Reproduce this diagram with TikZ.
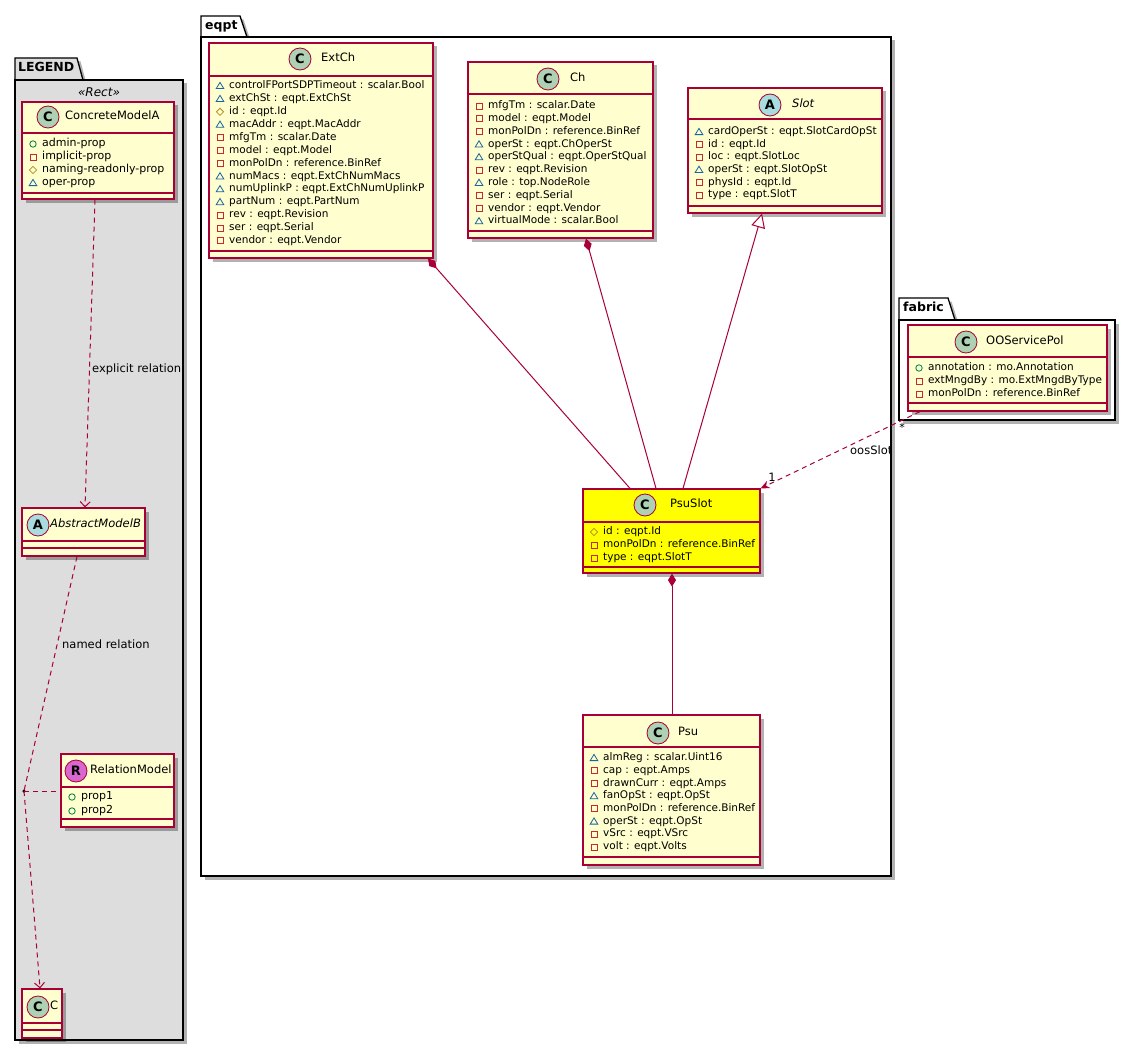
\documentclass[tikz,border=0pt]{standalone}
\usepackage{fontspec}
\setmainfont{DejaVu Sans}
\usetikzlibrary{arrows.meta,shadows}

\definecolor{clsfill}{HTML}{FEFECE}
\definecolor{clsline}{HTML}{A80036}
\definecolor{spotC}{HTML}{ADD1B2}
\definecolor{spotA}{HTML}{A9DCDF}
\definecolor{spotR}{HTML}{DA66CF}
\definecolor{hilite}{HTML}{FFFF00}
\definecolor{pkgfill}{HTML}{DDDDDD}
\definecolor{visp}{HTML}{038048}
\definecolor{visr}{HTML}{C82930}
\definecolor{visd}{HTML}{B38D22}
\definecolor{visk}{HTML}{1963A0}

\newcommand\attrfont{\fontsize{10.5}{12}\selectfont}
\newcommand\legfont{\fontsize{11}{13}\selectfont}
\newcommand\namefont{\fontsize{11.5}{13}\selectfont}

\tikzset{
  cls/.style={draw=clsline, fill=clsfill, line width=1.2pt, inner sep=0pt,
    drop shadow={shadow xshift=3.5pt, shadow yshift=-3.5pt, fill=black, opacity=.3}},
  sepline/.style={draw=clsline, line width=1.1pt},
  spot/.style={circle, draw=clsline, line width=.8pt, minimum size=22pt, inner sep=0pt,
    font=\bfseries\fontsize{13}{13}\selectfont},
  clsname/.style={anchor=mid west, inner sep=0pt, font=\namefont},
  attr/.style={anchor=mid west, inner sep=0pt, font=\attrfont},
  pkg/.style={draw=black, line width=1.3pt, inner sep=0pt,
    drop shadow={shadow xshift=3.5pt, shadow yshift=-3.5pt, fill=black, opacity=.3}},
  pkgname/.style={anchor=mid west, inner sep=0pt, font=\bfseries\fontsize{12.5}{14}\selectfont},
  rel/.style={draw=clsline, line width=1pt},
  dep/.style={rel, dash pattern=on 5pt off 4pt},
  link/.style={anchor=mid west, inner sep=0pt, font=\fontsize{11.5}{13}\selectfont},
  pics/visp/.style={code={\draw[visp, line width=.8pt] (0,0) circle (3.2);}},
  pics/visr/.style={code={\draw[visr, line width=.8pt] (-3,-3) rectangle (3,3);}},
  pics/visd/.style={code={\draw[visd, line width=.8pt] (0,-3.6) -- (3.6,0) -- (0,3.6) -- (-3.6,0) -- cycle;}},
  pics/visk/.style={code={\draw[visk, line width=.8pt] (-3.8,2.6) -- (3.8,2.6) -- (0,-3.6) -- cycle;}},
}

% box: [opts]{name}{x1}{y1}{x2}{y2}{sep1}{sep2}
\newcommand\umlbox[8][]{%
  \node[cls, minimum width={#5-#3}, minimum height={#6-#4}, #1] (#2) at ({(#3+#5)/2},{(#4+#6)/2}) {};
  \draw[sepline] (#3,#7) -- (#5,#7);
  \draw[sepline] (#3,#8) -- (#5,#8);
}
% header: {name}{spot fill}{letter}{cx}{cy}{tx}{title}
\newcommand\umlhead[7]{%
  \node[spot, fill=#2] (#1-s) at (#4,#5) {#3};
  \node[clsname] (#1-n) at (#6,#5) {#7};
}
% attributes: [font]{name}{x1}{first y}{step}{list}
\newcommand\umlattrs[6][\attrfont]{%
  \foreach \v/\t [count=\i] in {#6} {
    \pic at (#3+11,{#4+(\i-1)*#5}) {vis\v};
    \node[attr, font=#1] (#2-\i) at (#3+20,{#4+(\i-1)*#5}) {\t};
  }
}

\begin{document}
\begin{tikzpicture}[x=1pt,y=-1pt]
\useasboundingbox (0,0) rectangle (1136,1057);

% packages
\draw[pkg, fill=pkgfill] (15,80) -- (15,58) -- (77,58) -- (83,80);
\node[pkg, fill=pkgfill, minimum width=168, minimum height=960] (legend) at (99,560) {};
\node[pkgname] (legend-t) at (18,69) {LEGEND};
\node[inner sep=0pt, font=\itshape\fontsize{12}{14}\selectfont] (legend-st) at (99,92) {«Rect»};

\draw[pkg, fill=white] (201,37) -- (201,16) -- (240,16) -- (247,37);
\node[pkg, fill=white, minimum width=690, minimum height=839] (eqpt) at (546,456.5) {};
\node[pkgname] (eqpt-t) at (205,27) {eqpt};

\draw[pkg, fill=white] (899,320) -- (899,298) -- (948,298) -- (955,320);
\node[pkg, fill=white, minimum width=216, minimum height=100] (fabric) at (1007,370) {};
\node[pkgname] (fabric-t) at (903,309) {fabric};

% legend classes
\umlbox{cma}{22}{102}{174}{199}{133}{193}
\umlhead{cma}{spotC}{C}{48}{117}{65}{ConcreteModelA}
\umlattrs[\legfont]{cma}{22}{144}{13}{p/admin-prop, r/implicit-prop, d/naming-readonly-prop, k/oper-prop}

\umlbox{absb}{22}{508}{145}{556}{541}{548}
\umlhead{absb}{spotA}{A}{38}{525}{50}{\itshape AbstractModelB}

\umlbox{relm}{61}{754}{174}{827}{787}{819}
\umlhead{relm}{spotR}{R}{76}{771}{90}{RelationModel}
\umlattrs[\legfont]{relm}{61}{797}{14}{p/prop1, p/prop2}

\umlbox{cc}{22}{989}{62}{1038}{1023}{1030}
\umlhead{cc}{spotC}{C}{38}{1007}{50}{C}

% eqpt classes
\umlbox{extch}{209}{43}{433}{258}{76}{251}
\umlhead{extch}{spotC}{C}{300}{59}{321}{ExtCh}
\umlattrs{extch}{209}{86}{12.9}{k/controlFPortSDPTimeout : scalar.Bool, k/extChSt : eqpt.ExtChSt,
  d/id : eqpt.Id, k/macAddr : eqpt.MacAddr, r/mfgTm : scalar.Date, r/model : eqpt.Model,
  r/monPolDn : reference.BinRef, k/numMacs : eqpt.ExtChNumMacs, k/numUplinkP : eqpt.ExtChNumUplinkP,
  k/partNum : eqpt.PartNum, r/rev : eqpt.Revision, r/ser : eqpt.Serial, r/vendor : eqpt.Vendor}

\umlbox{ch}{468}{62}{653}{238}{94}{231}
\umlhead{ch}{spotC}{C}{548}{79}{570}{Ch}
\umlattrs{ch}{468}{106}{12.8}{r/mfgTm : scalar.Date, r/model : eqpt.Model, r/monPolDn : reference.BinRef,
  k/operSt : eqpt.ChOperSt, k/operStQual : eqpt.OperStQual, r/rev : eqpt.Revision,
  k/role : top.NodeRole, r/ser : eqpt.Serial, r/vendor : eqpt.Vendor, k/virtualMode : scalar.Bool}

\umlbox{slot}{688}{88}{882}{213}{119}{206}
\umlhead{slot}{spotA}{A}{770}{105}{792}{\itshape Slot}
\umlattrs{slot}{688}{132}{12.6}{k/cardOperSt : eqpt.SlotCardOpSt, r/id : eqpt.Id, r/loc : eqpt.SlotLoc,
  k/operSt : eqpt.SlotOpSt, r/physId : eqpt.Id, r/type : eqpt.SlotT}

\umlbox[fill=hilite]{psuslot}{583}{489}{760}{573}{522}{567}
\umlhead{psuslot}{spotC}{C}{645}{505}{670}{PsuSlot}
\umlattrs{psuslot}{583}{532}{13}{d/id : eqpt.Id, r/monPolDn : reference.BinRef, r/type : eqpt.SlotT}

\umlbox{psu}{583}{715}{760}{865}{747}{857}
\umlhead{psu}{spotC}{C}{658}{733}{678}{Psu}
\umlattrs{psu}{583}{758}{12.7}{k/almReg : scalar.Uint16, r/cap : eqpt.Amps, r/drawnCurr : eqpt.Amps,
  k/fanOpSt : eqpt.OpSt, r/monPolDn : reference.BinRef, k/operSt : eqpt.OpSt,
  r/vSrc : eqpt.VSrc, r/volt : eqpt.Volts}

% fabric class
\umlbox{oos}{908}{325}{1107}{411}{357}{403}
\umlhead{oos}{spotC}{C}{966}{342}{986}{OOServicePol}
\umlattrs{oos}{908}{368}{13}{p/annotation : mo.Annotation, r/extMngdBy : mo.ExtMngdByType,
  r/monPolDn : reference.BinRef}

% legend relations
\draw[dep, -{Straight Barb[length=5pt, width=10pt]}] (cma.south -| 95,0) -- (absb.north -| 85,0);
\node[link] (lbl-explicit) at (92,370) {explicit relation};
\node[circle, fill=black, inner sep=0pt, minimum size=3.5pt] (assoc) at (24,791) {};
\draw[dep] (absb.south -| 77,0) -- (assoc.center);
\draw[dep, -{Straight Barb[length=5pt, width=10pt]}] (assoc.center) -- (cc.north -| 40,0);
\draw[dep] (assoc.center) -- (relm.west |- assoc.center);
\node[link] (lbl-named) at (62,646) {named relation};

% eqpt relations
\draw[rel, {Diamond[length=13pt, width=8pt]}-] (extch.south -| 428,0) -- (psuslot.north -| 630,0);
\draw[rel, {Diamond[length=13pt, width=8pt]}-] (ch.south -| 586,0) -- (psuslot.north -| 656,0);
\draw[rel, {Triangle[length=14pt, width=14pt, fill=white]}-] (slot.south -| 762,0) -- (psuslot.north -| 683,0);
\draw[rel, {Diamond[length=13pt, width=8pt]}-] (psuslot.south -| 672,0) -- (psu.north -| 672,0);

% fabric to eqpt
\draw[dep, -{Stealth[length=9pt, width=8pt]}] (oos.south -| 920,0) -- (psuslot.north east);
\node[inner sep=0pt, font=\fontsize{11}{13}\selectfont] (lbl-many) at (902,427) {*};
\node[inner sep=0pt, font=\fontsize{11.5}{13}\selectfont] (lbl-one) at (772,477) {1};
\node[link] (lbl-oos) at (850,452) {oosSlot};
\end{tikzpicture}
\end{document}
